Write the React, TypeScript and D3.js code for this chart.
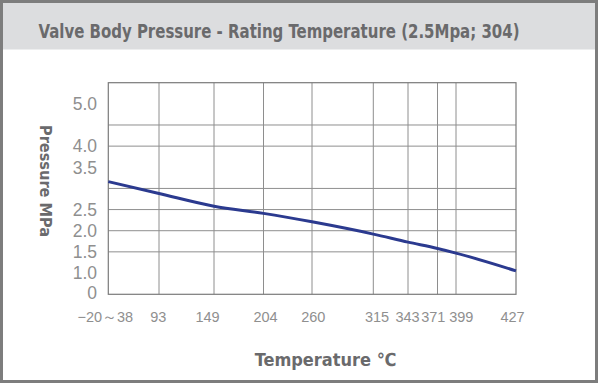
import React from "react";
import * as d3 from "d3";

// ---- data ----
const TEMPS = [38, 93, 149, 204, 260, 315, 343, 371, 399, 427];
const TEMP_LABELS = ["−20～38", "93", "149", "204", "260", "315", "343", "371", "399", "427"];
const PRESSURE = [3.16, 2.88, 2.58, 2.41, 2.21, 1.92, 1.73, 1.58, 1.47, 1.05];
const Y_TICKS = [0, 1.0, 1.5, 2.0, 2.5, 3.5, 4.0, 5.0];
const Y_GRID = [1.5, 2.0, 2.5, 3.0, 4.0, 4.5];
const TITLE = "Valve Body Pressure - Rating Temperature (2.5Mpa; 304)";
const Y_TITLE = "Pressure MPa";
const X_TITLE = "Temperature ℃";

// ---- layout ----
const W = 600;
const H = 385;
const X_RANGE = [108.3, 159, 214, 263.5, 312, 373.3, 408, 437.5, 456, 516];
const X_LABEL_NUDGE = [-3, -0.7, -6.5, 2, 1.3, 3.7, -0.5, -4.2, 5.3, -3.5];
const PLOT_TOP = 82.7;
const PLOT_BOTTOM = 294.3;

export default function App() {
  const x = d3.scaleLinear().domain(TEMPS).range(X_RANGE);
  const y = d3.scaleLinear().domain([0, 1, 5.5]).range([PLOT_BOTTOM, 273, PLOT_TOP]);
  const line = d3
    .line<number>()
    .x((_, i) => x(TEMPS[i]))
    .y((d) => y(d))
    .curve(d3.curveMonotoneX);

  const left = x(TEMPS[0]);
  const right = x(TEMPS[TEMPS.length - 1]);
  const gridColor = "#8e8e8e";
  const labelFont = "'Liberation Sans', Arial, sans-serif";
  const boldFont = "'Liberation Sans Narrow', 'DejaVu Sans Condensed', 'Open Sans', sans-serif";

  return (
    <svg
      width={W}
      height={H}
      style={{ position: "absolute", left: 0, top: 0, background: "#fff" }}
    >
      <rect x={0} y={0} width={W} height={H} fill="#fff" />
      <rect x={1.5} y={1.5} width={595} height={48} fill="#dcdddf" />
      <rect x={1.5} y={1.5} width={595} height={380} fill="none" stroke="#7d7d7d" strokeWidth={3} />
      <text
        x={38.5}
        y={37.5}
        fontFamily={boldFont}
        fontWeight="bold"
        fontSize={20}
        fill="#6a6a6c"
        textLength={481}
        lengthAdjust="spacingAndGlyphs"
      >
        {TITLE}
      </text>

      {/* horizontal grid */}
      {Y_GRID.map((v) => (
        <line key={"h" + v} x1={left} x2={right} y1={y(v)} y2={y(v)} stroke={gridColor} strokeWidth={1} />
      ))}
      {/* vertical grid */}
      {TEMPS.slice(1, -1).map((t) => (
        <line key={"v" + t} x1={x(t)} x2={x(t)} y1={PLOT_TOP} y2={PLOT_BOTTOM} stroke={gridColor} strokeWidth={1} />
      ))}
      <rect
        x={left}
        y={PLOT_TOP}
        width={right - left}
        height={PLOT_BOTTOM - PLOT_TOP}
        fill="none"
        stroke="#7a7a7a"
        strokeWidth={1.2}
      />

      {/* curve */}
      <path d={line(PRESSURE) || ""} fill="none" stroke="#2b3a8f" strokeWidth={3} strokeLinecap="butt" />

      {/* y tick labels */}
      {Y_TICKS.map((v) => (
        <text
          key={"y" + v}
          x={97}
          y={y(v) - (v === 0 ? 2 : 0)}
          dy="0.36em"
          textAnchor="end"
          fontFamily={labelFont}
          fontSize={17.5}
          fill="#8f8f8f"
        >
          {v === 0 ? "0" : v.toFixed(1)}
        </text>
      ))}

      {/* x tick labels */}
      {TEMPS.map((t, i) => (
        <text
          key={"x" + t}
          x={x(t) + X_LABEL_NUDGE[i]}
          y={322}
          textAnchor="middle"
          fontFamily={labelFont}
          fontSize={14.5}
          fill="#8f8f8f"
        >
          {TEMP_LABELS[i]}
        </text>
      ))}

      {/* axis titles */}
      <text
        transform={`translate(40,181) rotate(90)`}
        textAnchor="middle"
        fontFamily={boldFont}
        fontWeight="bold"
        fontSize={16}
        fill="#6a6a6c"
        textLength={112}
        lengthAdjust="spacingAndGlyphs"
      >
        {Y_TITLE}
      </text>
      <text
        x={325.5}
        y={366}
        textAnchor="middle"
        fontFamily={boldFont}
        fontWeight="bold"
        fontSize={18}
        fill="#6a6a6c"
      >
        {X_TITLE}
      </text>
    </svg>
  );
}
